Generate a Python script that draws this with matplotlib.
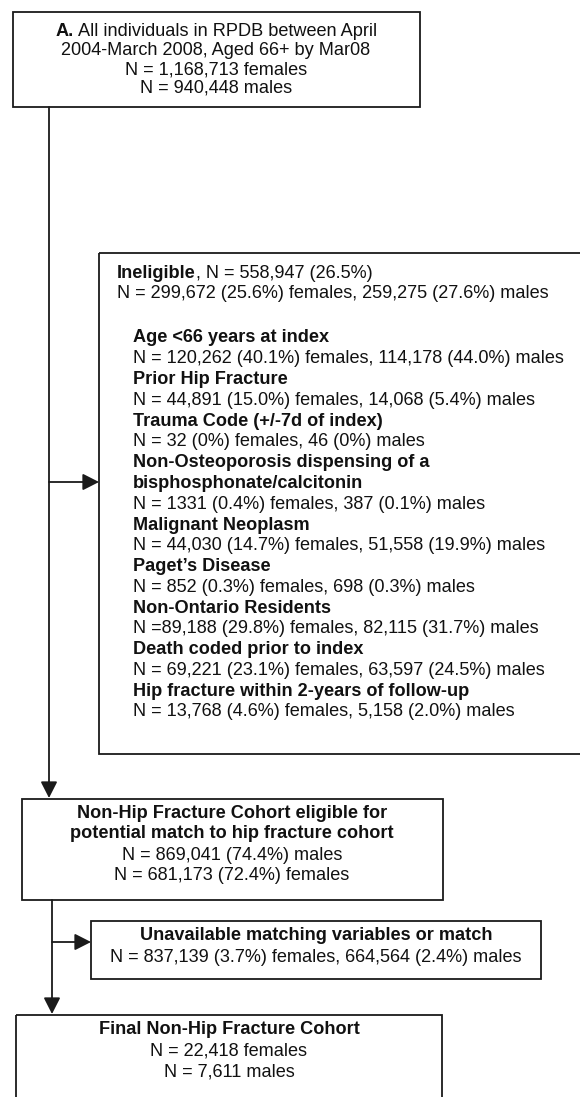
import matplotlib
matplotlib.use("Agg")
import matplotlib.pyplot as plt
from matplotlib.patches import Rectangle

plt.rcParams['font.family'] = ['Liberation Sans', 'DejaVu Sans']

# ---- chart text / numbers ----
box_a_lines = [
    [("A.", "bold"), (" All individuals in RPDB between April", "normal")],
    [("2004-March 2008, Aged 66+ by Mar08", "normal")],
    [("N = 1,168,713 females", "normal")],
    [("N = 940,448 males", "normal")],
]

inelig_header = [
    [("Ineligible", "bold"), (", N = 558,947 (26.5%)", "normal")],
    [("N = 299,672 (25.6%) females, 259,275 (27.6%) males", "normal")],
]

inelig_items = [
    ("Age <66 years at index", "bold"),
    ("N = 120,262 (40.1%) females, 114,178 (44.0%) males", "normal"),
    ("Prior Hip Fracture", "bold"),
    ("N = 44,891 (15.0%) females, 14,068 (5.4%) males", "normal"),
    ("Trauma Code (+/-7d of index)", "bold"),
    ("N = 32 (0%) females, 46 (0%) males", "normal"),
    ("Non-Osteoporosis dispensing of a", "bold"),
    ("bisphosphonate/calcitonin", "bold"),
    ("N = 1331 (0.4%) females, 387 (0.1%) males", "normal"),
    ("Malignant Neoplasm", "bold"),
    ("N = 44,030 (14.7%) females, 51,558 (19.9%) males", "normal"),
    ("Paget\u2019s Disease", "bold"),
    ("N = 852 (0.3%) females, 698 (0.3%) males", "normal"),
    ("Non-Ontario Residents", "bold"),
    ("N =89,188 (29.8%) females, 82,115 (31.7%) males", "normal"),
    ("Death coded prior to index", "bold"),
    ("N = 69,221 (23.1%) females, 63,597 (24.5%) males", "normal"),
    ("Hip fracture within 2-years of follow-up", "bold"),
    ("N = 13,768 (4.6%) females, 5,158 (2.0%) males", "normal"),
]

nonhip_lines = [
    ("Non-Hip Fracture Cohort eligible for", "bold"),
    ("potential match to hip fracture cohort", "bold"),
    ("N = 869,041 (74.4%) males", "normal"),
    ("N = 681,173 (72.4%) females", "normal"),
]

unavail_lines = [
    ("Unavailable matching variables or match", "bold"),
    ("N = 837,139 (3.7%) females, 664,564 (2.4%) males", "normal"),
]

final_lines = [
    ("Final Non-Hip Fracture Cohort", "bold"),
    ("N = 22,418 females", "normal"),
    ("N = 7,611 males", "normal"),
]

FS = 13.1
LC = '#1a1a1a'

fig = plt.figure(figsize=(5.8, 10.97), dpi=100)
ax = fig.add_axes([0, 0, 1, 1])
ax.set_xlim(0, 580)
ax.set_ylim(1097, 0)
ax.axis('off')
renderer = fig.canvas.get_renderer()


def box(x0, y0, x1, y1):
    ax.add_patch(Rectangle((x0, y0), x1 - x0, y1 - y0, fill=False,
                           ec=LC, lw=1.3))


def line_segments(segs, x, y, align='center'):
    # draw a line made of pieces with different weights
    texts = []
    for s, w in segs:
        t = ax.text(0, y, s, fontsize=FS, fontweight=w, va='center',
                    ha='left', color='#111111')
        texts.append(t)
    widths = [t.get_window_extent(renderer).width for t in texts]
    total = sum(widths)
    cx = x - total / 2 if align == 'center' else x
    for t, w in zip(texts, widths):
        t.set_x(cx)
        cx += w


def arrow(x0, y0, x1, y1):
    ax.annotate('', xy=(x1, y1), xytext=(x0, y0),
                arrowprops=dict(arrowstyle='-|>,head_length=0.55,head_width=0.28',
                                mutation_scale=18, lw=1.3, color=LC,
                                shrinkA=0, shrinkB=0))


# Box A
box(13, 12, 420, 107)
for i, segs in enumerate(box_a_lines):
    line_segments(segs, 216, 32 + i * 18.8)

# Ineligible box
box(99, 253, 600, 754)
for i, segs in enumerate(inelig_header):
    line_segments(segs, 117, 273 + i * 20, align='left')
step = (712 - 338) / (len(inelig_items) - 1)
for i, (s, w) in enumerate(inelig_items):
    ax.text(133, 338 + i * step, s, fontsize=FS, fontweight=w, va='center',
            ha='left', color='#111111')

# Non-hip eligible box
box(22, 799, 443, 900)
for i, (s, w) in enumerate(nonhip_lines):
    ax.text(232, 813 + i * 21, s, fontsize=FS, fontweight=w, va='center',
            ha='center', color='#111111')

# Unavailable box
box(91, 921, 541, 979)
for i, (s, w) in enumerate(unavail_lines):
    ax.text(316, 936 + i * 21, s, fontsize=FS, fontweight=w, va='center',
            ha='center', color='#111111')

# Final box
box(16, 1015, 442, 1120)
for i, (s, w) in enumerate(final_lines):
    ax.text(229, 1030 + i * 21, s, fontsize=FS, fontweight=w, va='center',
            ha='center', color='#111111')

# connectors
arrow(49, 107, 49, 798)
arrow(49, 482, 99, 482)
arrow(52, 900, 52, 1014)
arrow(52, 942, 91, 942)

fig.savefig('out.png', dpi=100)
